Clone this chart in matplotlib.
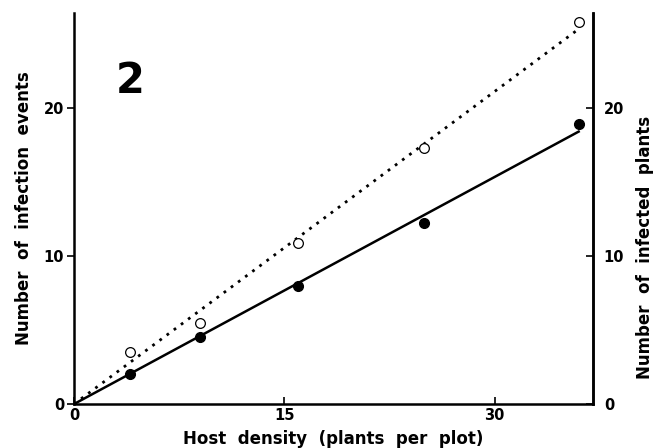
import numpy as np
import matplotlib.pyplot as plt

# host density (plants per plot)
density = [4, 9, 16, 25, 36]
# number of infected plants (filled) and infection events (open)
infected_plants = [2.0, 4.5, 8.0, 12.2, 18.9]
infection_events = [3.5, 5.5, 10.9, 17.3, 25.8]

x = np.array(density, dtype=float)


def slope_through_origin(xs, ys):
    ys = np.array(ys, dtype=float)
    return (xs * ys).sum() / (xs * xs).sum()


fig = plt.figure(figsize=(6.6, 4.48), dpi=100)
ax = fig.add_axes([0.112, 0.098, 0.786, 0.873])

xfit = np.array([0, x.max()])
ax.plot(xfit, slope_through_origin(x, infection_events) * xfit, color="black",
        linestyle=(0, (1, 2.2)), linewidth=2, zorder=2)
ax.plot(xfit, slope_through_origin(x, infected_plants) * xfit, color="black",
        linewidth=1.8, zorder=2)
ax.plot(x, infection_events, "o", mfc="white", mec="black", mew=0.9, ms=7, zorder=3)
ax.plot(x, infected_plants, "o", color="black", ms=7, zorder=3)

ax.set_xlim(0, 37)
ax.set_ylim(0, 26.4)
ax.set_xticks([0, 15, 30])
ax.set_yticks([0, 10, 20])

ax.spines["top"].set_visible(False)
for s in ["left", "bottom", "right"]:
    ax.spines[s].set_linewidth(1.8)

lab = dict(fontsize=12, fontweight="bold", family="DejaVu Sans")
ax.tick_params(axis="y", direction="out", length=5, width=1.2, labelsize=10.5, pad=2)
ax.tick_params(axis="x", direction="in", length=5, width=1.2, labelsize=10.5, pad=3)
for t in ax.get_xticklabels() + ax.get_yticklabels():
    t.set_fontweight("bold")

ax2 = ax.twinx()
ax2.set_ylim(ax.get_ylim())
ax2.set_yticks([0, 10, 20])
ax2.tick_params(axis="y", direction="in", length=5, width=1.2, labelsize=10.5, pad=8)
for t in ax2.get_yticklabels():
    t.set_fontweight("bold")
for s in ["top", "left", "bottom"]:
    ax2.spines[s].set_visible(False)
ax2.spines["right"].set_linewidth(1.8)

ax.set_xlabel("Host  density  (plants  per  plot)", labelpad=5, **lab)
ax.set_ylabel("Number  of  infection  events", labelpad=8, **lab)
ax2.set_ylabel("Number  of  infected  plants", **lab)
ax2.yaxis.set_label_coords(1.083, 0.40)

ax.text(4.0, 21.8, "2", fontsize=30, fontweight="heavy", ha="center", va="center")

fig.savefig("out.png", dpi=100)
